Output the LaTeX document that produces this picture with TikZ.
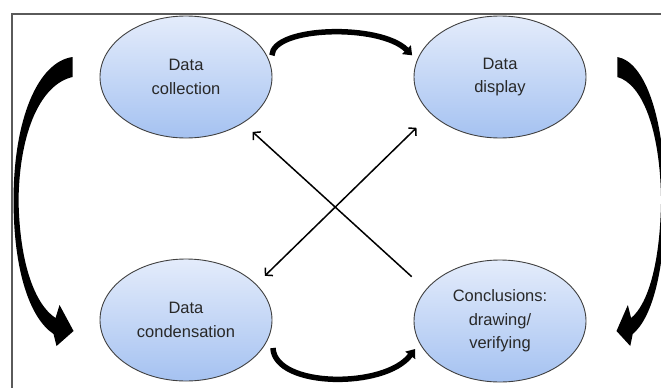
\documentclass[tikz,border=0pt]{standalone}
\usepackage{fontspec}
\setmainfont{Liberation Sans}
\usetikzlibrary{arrows.meta,shapes.geometric}
\definecolor{ovaltop}{RGB}{228,236,251}
\definecolor{ovalbottom}{RGB}{165,194,241}
\definecolor{ovalline}{RGB}{64,64,64}
\definecolor{framegray}{RGB}{90,90,90}
\definecolor{textgray}{RGB}{40,40,40}

\begin{document}
\begin{tikzpicture}[x=1pt, y=-1pt, >={Straight Barb[length=5pt,width=11pt]},
        stage/.style={ellipse, draw=ovalline, line width=0.9pt, top color=ovaltop, bottom color=ovalbottom,
            minimum width=172pt, minimum height=122pt, inner sep=0pt, align=center, text=textgray,
            font=\fontsize{16.5}{23.5}\selectfont},
        cross/.style={line width=1.5pt},
        flow/.style={line width=5.5pt, -{Triangle[length=8pt,width=12pt]}},
        curved arrow/.pic={
            \fill (-27,-20) .. controls (-62,-15) and (-86,43) .. (-86,123)
                .. controls (-86,193) and (-70,241) .. (-46,257)
                -- (-43,269) -- (-26,254) -- (-40,228) -- (-44,241)
                .. controls (-64,228) and (-80,188) .. (-81,123)
                .. controls (-80,53) and (-58,7) .. (-27,0) -- cycle;
        }]
        \useasboundingbox (0,0) rectangle (661,388);
        \clip (0,0) rectangle (661,388);
        \draw[framegray, line width=1.4pt] (12,14) rectangle (690,410);

        \node[stage] (coll) at (186,77) {Data\\collection};
        \node[stage] (disp) at (500,77) {Data\\display};
        \node[stage] (cond) at (186,320) {Data\\condensation};
        \node[stage] (concl) at (500,321) {Conclusions:\\drawing/\\verifying};

        \draw[flow] ([xshift=5pt]coll.15) .. controls +(1,-29) and +(-32,-32) .. ([xshift=-7pt]disp.165);
        \draw[flow] ([xshift=10pt]cond.-20) .. controls +(2,40) and +(-30,40) .. ([xshift=-8pt]concl.200);

        \draw[cross, ->, shorten <=19pt, shorten >=13pt] (concl.157) -- (coll.-39);
        \draw[cross, <->, shorten <=12pt, shorten >=20pt] (cond.27) -- (disp.208);

        \pic at (coll.west) {curved arrow};
        \pic[xscale=-0.81] at ([xshift=9pt]disp.east) {curved arrow};
    \end{tikzpicture}
\end{document}
